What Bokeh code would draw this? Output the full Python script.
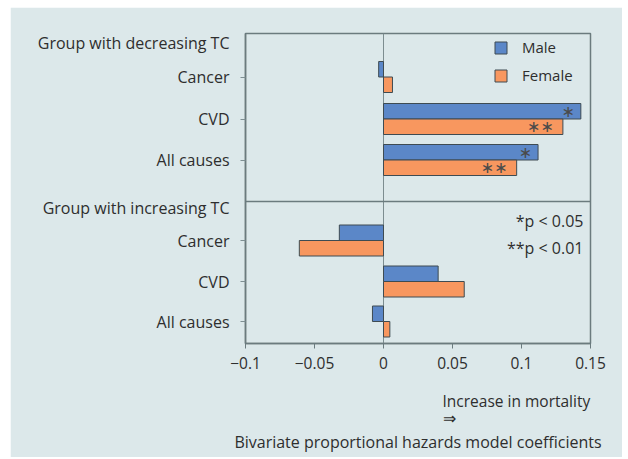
from bokeh.plotting import figure
from bokeh.models import Range1d, FixedTicker, Span, Label, Legend, LegendItem, Title
from bokeh.core.properties import value
from bokeh.embed import file_html
from bokeh.resources import INLINE

# ---- data ----
groups = ["Group with decreasing TC", "Group with increasing TC"]
causes = ["Cancer", "CVD", "All causes"]
male_dec = [-0.0035, 0.143, 0.112]
female_dec = [0.0065, 0.130, 0.0965]
male_inc = [-0.032, 0.0396, -0.008]
female_inc = [-0.061, 0.0585, 0.0046]
male_sig_dec = ["", "\u2217", "\u2217"]
female_sig_dec = ["", "\u2217\u2217", "\u2217\u2217"]
male_sig_inc = ["", "", ""]
female_sig_inc = ["", "", ""]
x_ticks = [-0.1, -0.05, 0, 0.05, 0.1, 0.15]
x_tick_labels = ["\u22120.1", "\u22120.05", "0", "0.05", "0.1", "0.15"]
legend_labels = ["Male", "Female"]
sig_notes = ["*p < 0.05", "**p < 0.01"]
x_title_lines = ["Increase in mortality", "\u21d2", "Bivariate proportional hazards model coefficients"]

# ---- layout constants ----
ROW_Y = [266.5, 224.5, 183.5, 103, 62, 22]
GROUP_Y = [301, 136]
SEP_Y = 142
BAR_H = 15.5
FONT = "Open Sans"
FS = "16px"
TXT = "#2e2e2e"
BG = "#dce8ea"
FRAME = "#6b7b7e"
BLUE = "#5b87c8"
ORANGE = "#f8975f"
EDGE = "#3e4b52"

male_vals = male_dec + male_inc
female_vals = female_dec + female_inc
male_sig = male_sig_dec + male_sig_inc
female_sig = female_sig_dec + female_sig_inc
male_y = [r + BAR_H / 2 for r in ROW_Y]
female_y = [r - BAR_H / 2 for r in ROW_Y]

p = figure(width=612, height=450, output_backend="svg", toolbar_location=None,
           x_range=Range1d(-0.1, 0.15), y_range=Range1d(0, 310),
           min_border_left=235, min_border_right=32, min_border_top=26, min_border_bottom=114)
p.margin = (7, 0, 0, 10)
p.background_fill_color = BG
p.border_fill_color = BG
p.outline_line_color = FRAME
p.outline_line_width = 1.5
p.xgrid.visible = False
p.ygrid.visible = False

zero = Span(location=0, dimension="height", line_color="#7d8d90", line_width=1, level="underlay")
p.add_layout(zero)
sep = Span(location=SEP_Y, dimension="width", line_color=FRAME, line_width=1.5)
p.add_layout(sep)

rm = p.hbar(y=male_y, left=0, right=male_vals, height=BAR_H, fill_color=BLUE,
            line_color=EDGE, line_width=1)
rf = p.hbar(y=female_y, left=0, right=female_vals, height=BAR_H, fill_color=ORANGE,
            line_color=EDGE, line_width=1)

p.text(x=male_vals, y=male_y, text=male_sig, text_align="right", text_baseline="middle",
       x_offset=-6, text_font=value("DejaVu Sans"), text_font_size="16px", text_color="#4a4a4a")
p.text(x=female_vals, y=female_y, text=female_sig, text_align="right", text_baseline="middle",
       x_offset=-9, text_font=value("DejaVu Sans"), text_font_size="16px", text_color="#4a4a4a")

# axes
xa = p.xaxis[0]
xa.ticker = FixedTicker(ticks=x_ticks)
xa.major_label_overrides = {t: l for t, l in zip(x_ticks, x_tick_labels)}
xa.minor_tick_line_color = None
xa.major_tick_in = 0
xa.major_tick_out = 5
xa.axis_line_color = FRAME
xa.axis_line_width = 1.5
xa.major_tick_line_color = FRAME
xa.major_label_standoff = 8
xa.major_label_text_font = FONT
xa.major_label_text_font_size = "15.5px"
xa.major_label_text_color = TXT

# y axis: major ticks carry all labels (groups + causes), minor ticks mark causes
ya = p.yaxis[0]
ya.ticker = FixedTicker(ticks=GROUP_Y + ROW_Y, minor_ticks=ROW_Y)
overrides = {t: causes[i % 3] for i, t in enumerate(ROW_Y)}
overrides.update({t: g for t, g in zip(GROUP_Y, groups)})
ya.major_label_overrides = overrides
ya.major_tick_line_color = None
ya.major_tick_out = 5
ya.major_tick_in = 0
ya.minor_tick_line_color = "#7f8f92"
ya.minor_tick_out = 5
ya.minor_tick_in = 0
ya.axis_line_color = FRAME
ya.axis_line_width = 1.5
ya.major_label_standoff = 11
ya.major_label_text_font = FONT
ya.major_label_text_font_size = FS
ya.major_label_text_color = TXT

for note, ny in zip(sig_notes, [123, 96]):
    p.add_layout(Label(x=0.15, y=ny, x_offset=-7, text=note, text_align="right",
                       text_baseline="middle", text_font=FONT, text_font_size=FS,
                       text_color=TXT))

# x title lines as stacked titles below the axis (leading empty line = spacing)
t1 = Title(text="\n" + x_title_lines[0] + "\n" + x_title_lines[1], align="left", offset=197,
           text_font=FONT, text_font_size="15.5px", text_font_style="normal", text_color=TXT,
           standoff=0, text_line_height=0.75)
t3 = Title(text=x_title_lines[2], align="center", text_font=FONT, text_font_size=FS,
           text_font_style="normal", text_color=TXT, standoff=0)
p.add_layout(t1, "below")
p.add_layout(t3, "below")

legend = Legend(items=[LegendItem(label=legend_labels[0], renderers=[rm]),
                       LegendItem(label=legend_labels[1], renderers=[rf])],
                location=(248, 258), glyph_width=15, glyph_height=15, label_height=15,
                label_standoff=14, spacing=8, padding=0, margin=0,
                label_text_font=FONT, label_text_font_size="15px", label_text_color=TXT,
                border_line_color=None, background_fill_alpha=0)
p.add_layout(legend)

open("out.html", "w").write(file_html(p, INLINE))
